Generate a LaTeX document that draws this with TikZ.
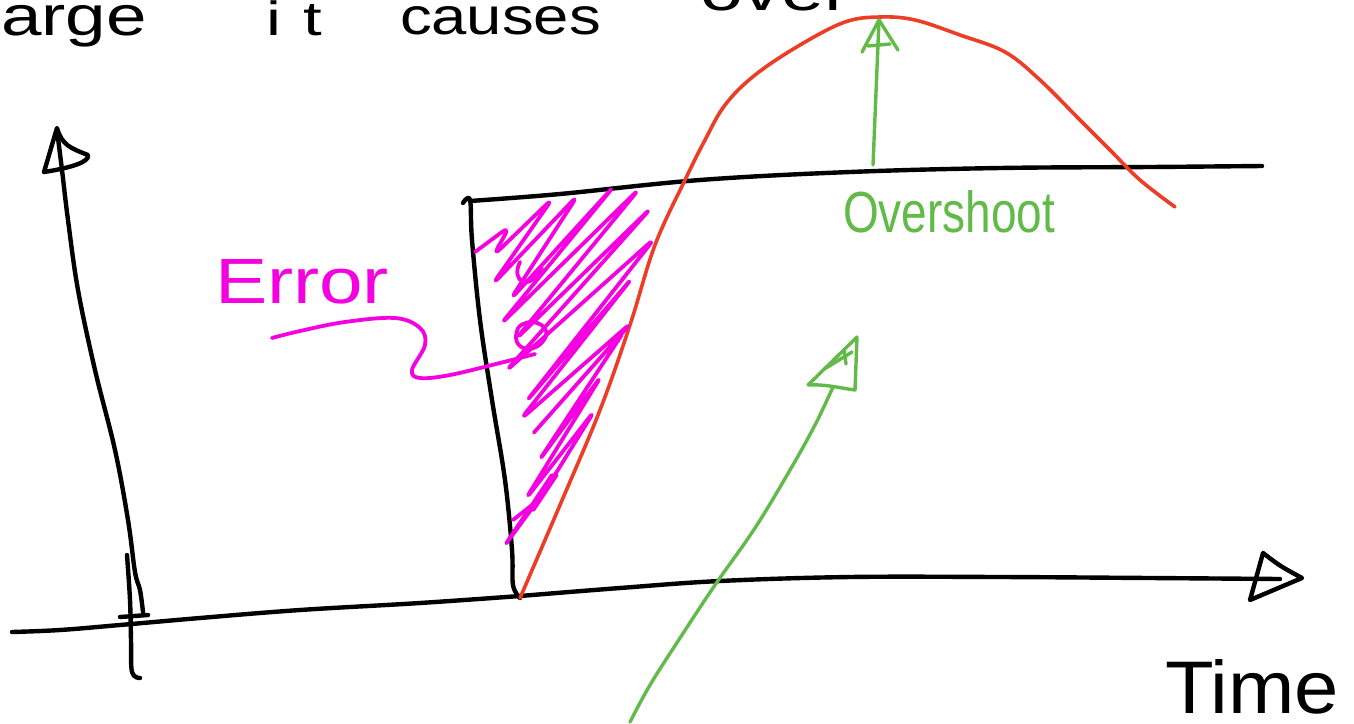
\documentclass[tikz,border=0pt]{standalone}
\usepackage{fontspec}
\setmainfont{Liberation Sans}
\definecolor{curvered}{RGB}{236,62,38}
\definecolor{penGreen}{RGB}{98,186,72}
\definecolor{penMagenta}{RGB}{245,0,225}
\begin{document}
\begin{tikzpicture}[x=0.5pt,y=-0.5pt,
  blk/.style={line width=2.2pt, line cap=round, line join=round, draw=black},
  redc/.style={line width=1.8pt, line cap=round, line join=round, draw=curvered},
  grn/.style={line width=1.7pt, line cap=round, line join=round, draw=penGreen},
  mag/.style={line width=1.9pt, line cap=round, line join=round, draw=penMagenta},
  lbl/.style={inner sep=0pt, outer sep=0pt},
  toptxt/.style={lbl, font=\fontsize{28}{30}\selectfont}]
\useasboundingbox (0,0) rectangle (1354,723);
\clip (0,0) rectangle (1354,723);
\fill[white] (0,0) rectangle (1354,723);

% top sentence (cut by the page edge)
\node[toptxt, anchor=base east] (wlarge) at (147,35) {\scalebox{1.3}[1]{large}};
\node[lbl, font=\fontsize{24}{26}\selectfont, anchor=base] (wit) at (294,35) {\scalebox{1.4}[1]{i\hspace{8pt}t}};
\node[lbl, font=\fontsize{26}{28}\selectfont, anchor=base west] (wcauses) at (400,34) {\scalebox{1.22}[1]{causes}};
\node[toptxt, anchor=base west] (wover) at (700,10) {\scalebox{1.38}[1]{over}};

% vertical axis
\draw[blk] plot[smooth, tension=0.6] coordinates {(143,612) (140,590) (135,572) (128,520) (115,450) (95,370) (78,290) (68,220) (62,170) (57,130)};
\draw[blk] (44,172) -- (57,128) .. controls (62,145) and (70,148) .. (88,155) .. controls (90,162) and (70,168) .. (44,172);
\draw[blk] plot[smooth, tension=0.6] coordinates {(127,555) (130,600) (131,640) (132,672) (140,678)};

% horizontal axis
\draw[blk] plot[smooth, tension=0.6] coordinates {(12,632) (60,630) (120,625) (200,618) (300,610) (420,603) (520,596)};
\draw[blk] (120,617) -- (148,615);
\draw[blk] plot[smooth, tension=0.6] coordinates {(520,596) (620,588) (720,581) (850,577) (1000,577) (1150,578) (1280,579)};
\draw[blk] (1263,553) .. controls (1280,566) .. (1302,578) -- (1250,600) -- cycle;

% setpoint step
\draw[blk] plot[smooth, tension=0.6] coordinates {(463,203) (470,200) (472,240) (480,320) (492,400) (505,480) (512,550) (513,585) (520,598)};
\draw[blk] plot[smooth, tension=0.6] coordinates {(470,201) (560,194) (700,180) (850,172) (1000,168) (1150,167) (1262,166)};

% response
\draw[redc] plot[smooth, tension=0.6] coordinates {(520,598) (560,505) (600,410) (630,325) (655,245) (685,180) (705,140) (725,105) (755,75) (800,45) (845,22) (880,17) (915,20) (960,35) (1005,52) (1040,80) (1080,120) (1110,150) (1140,180) (1175,207)};

% error hatching
\draw[mag, rounded corners=5pt] (475,252) -- (510,226) -- (493,256) -- (553,198) -- (492,285) -- (578,195) -- (510,300) -- (615,185) -- (500,325) -- (640,188) -- (515,340) -- (652,207) -- (505,372) -- (655,238) -- (525,403) -- (633,277) -- (520,420) -- (632,322) -- (530,437) -- (625,330) -- (538,462) -- (602,375) -- (525,500) -- (595,410) -- (530,515) -- (560,470) -- (503,548) -- (552,475);
\draw[mag] (518,328) .. controls (508,352) and (538,356) .. (546,336) .. controls (550,324) and (528,316) .. (518,328);
\draw[mag] (520,262) .. controls (510,282) and (530,292) .. (542,268);
\draw[mag] (513,520) -- (532,505);
\node[lbl, text=penMagenta, anchor=base west] (err) at (215,303) {\resizebox{87pt}{22pt}{Error}};
\draw[mag] plot[smooth, tension=0.6] coordinates {(272,338) (300,331) (345,322) (395,318) (420,328) (425,345) (412,370) (420,378) (450,375) (500,363) (535,354)};

% overshoot arrow
\draw[grn] (873,165) -- (879,20);
\draw[grn] (862,52) -- (879,20) -- (898,50);
\draw[grn] (868,46) -- (890,44);
\node[lbl, text=penGreen, anchor=base west] (ovs) at (843,232) {\resizebox{106pt}{21pt}{Overshoot}};

% lower green arrow
\draw[grn] plot[smooth, tension=0.6] coordinates {(630,722) (650,685) (680,638) (715,585) (755,528) (790,470) (815,425) (833,387)};
\draw[grn] (808,385) -- (857,337) -- (855,390) .. controls (840,388) and (825,384) .. (808,385);
\draw[grn] (826,368) -- (852,352);
\draw[grn] (844,350) -- (846,364);

\node[lbl, anchor=base west] (time) at (1165,713) {\resizebox{87pt}{27pt}{Time}};
\end{tikzpicture}
\end{document}
